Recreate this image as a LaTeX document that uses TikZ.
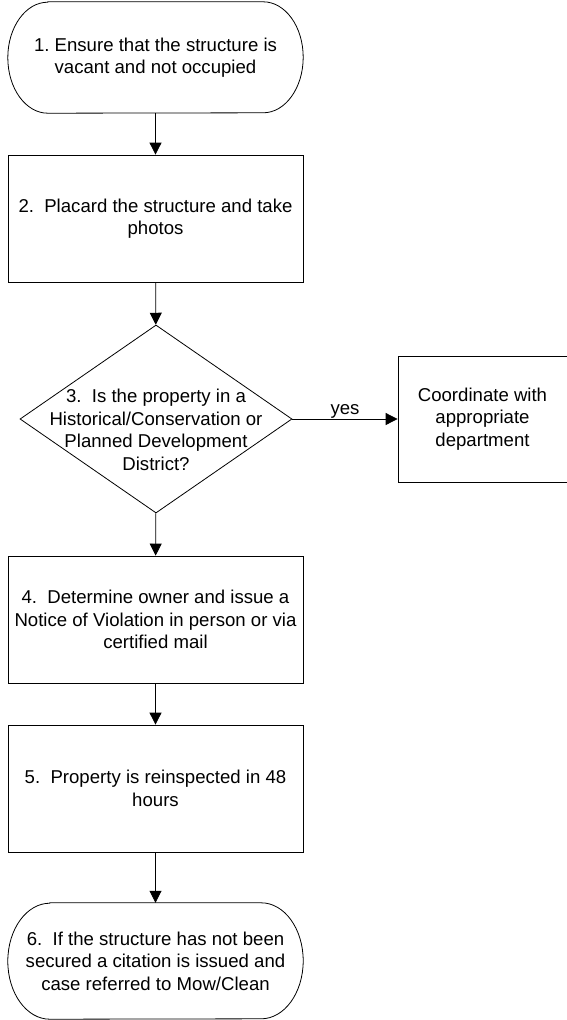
\documentclass[tikz,border=0pt]{standalone}
\usepackage{fontspec}
\setmainfont{Liberation Sans}
\usetikzlibrary{shapes.geometric,arrows.meta}

\begin{document}
\begin{tikzpicture}[x=1pt,y=-1pt]
    \useasboundingbox (0,0) rectangle (566,1020);
    \tikzset{every node/.style = {font=\fontsize{18.6}{22.5}\selectfont, align=center, inner sep=0pt}}
    \tikzset{Terminal/.style = {rectangle, minimum width=295pt}}
    \tikzset{StepBox/.style = {draw, line width=0.8pt, rectangle, minimum width=295pt, minimum height=127pt}}
    \tikzset{Decision/.style = {draw, line width=0.8pt, diamond, minimum width=272pt, minimum height=188pt}}
    \tikzset{Outline/.style = {line width=0.8pt}}
    \node[Terminal, minimum height=111pt] (S1) at (155.5,57.5) {1.\ Ensure that the structure is\\vacant and not occupied};
    \node[StepBox] (S2) at (155.5,218.5) {2.\ \ Placard the structure and take\\photos};
    \node[Decision] (S3) at (156,419) {};
    \node (T3) at (156,430) {3.\ \ Is the property in a\\Historical/Conservation or\\Planned Development\\District?};
    \node[StepBox, minimum width=169pt, minimum height=126pt] (C) at (482.5,419) {Coordinate with\\appropriate\\department};
    \node[StepBox] (S4) at (155.5,619.5) {4.\ \ Determine owner and issue a\\Notice of Violation in person or via\\certified mail};
    \node[StepBox] (S5) at (155.5,788.5) {5.\ \ Property is reinspected in 48\\hours};
    \node[Terminal, minimum height=116pt] (S6) at (155.5,961) {6.\ \ If the structure has not been\\secured a citation is issued and\\case referred to Mow/Clean};

    \draw[Outline] ([xshift=40pt]S1.north west) -- ([xshift=-40pt]S1.north east)
        arc[start angle=90, end angle=-90, x radius=40pt, y radius=55.5pt]
        -- ([xshift=40pt]S1.south west)
        arc[start angle=270, end angle=90, x radius=40pt, y radius=55.5pt] -- cycle;
    \draw[Outline] ([xshift=42pt]S6.north west) -- ([xshift=-42pt]S6.north east)
        arc[start angle=90, end angle=-90, x radius=42pt, y radius=58pt]
        -- ([xshift=42pt]S6.south west)
        arc[start angle=270, end angle=90, x radius=42pt, y radius=58pt] -- cycle;

    \tikzset{EdgeStyle/.style = {line width=0.8pt, -{Triangle[length=12pt,width=12pt]}}}
    \draw[EdgeStyle] (S1) -- (S2);
    \draw[EdgeStyle] (S2) -- (S3);
    \draw[EdgeStyle] (S3) -- node[above=0pt] {yes} (C);
    \draw[EdgeStyle] (S3) -- (S4);
    \draw[EdgeStyle] (S4) -- (S5);
    \draw[EdgeStyle] (S5) -- (S6);
\end{tikzpicture}
\end{document}
